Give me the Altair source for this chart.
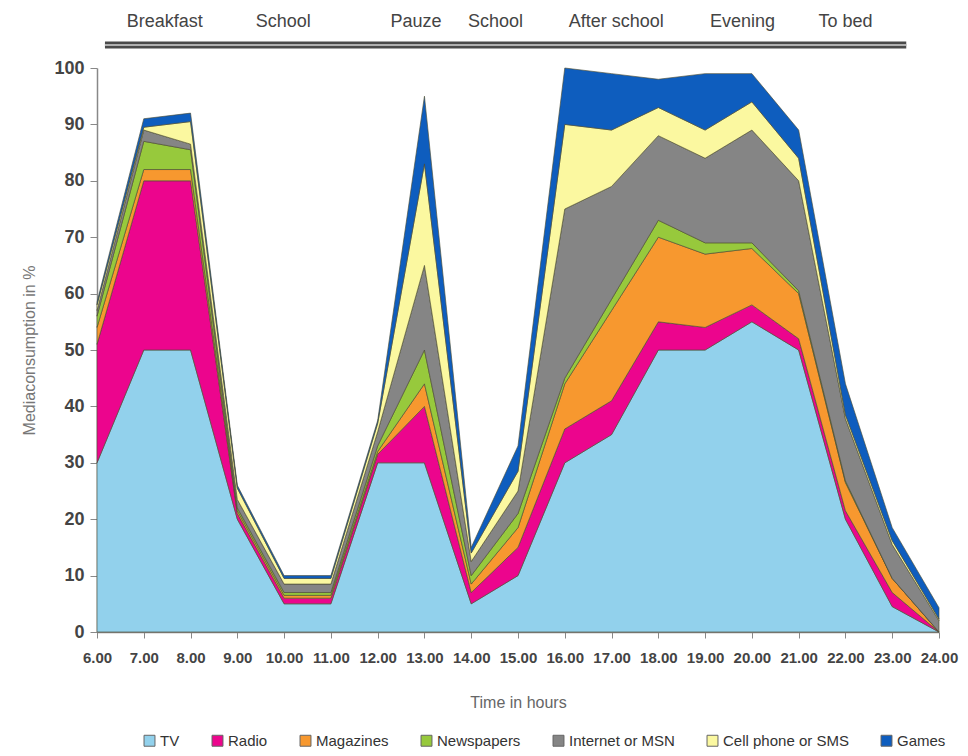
import altair as alt
import pandas as pd

hours = [6, 7, 8, 9, 10, 11, 12, 13, 14, 15, 16, 17, 18, 19, 20, 21, 22, 23, 24]

series_names = ["TV", "Radio", "Magazines", "Newspapers", "Internet or MSN", "Cell phone or SMS", "Games"]
series_colors = ["#92D1EC", "#EC058D", "#F7982F", "#97C93C", "#858585", "#FBF8A0", "#0E5DBE"]

tv         = [30, 50, 50, 20, 5, 5, 30, 30, 5, 10, 30, 35, 50, 50, 55, 50, 20, 4.5, 0]
radio      = [21, 30, 30, 1, 1, 1, 1.5, 10, 2, 5, 6, 6, 5, 4, 3, 2, 1.5, 2.5, 0]
magazines  = [3, 2, 2, 0.5, 0.5, 0.5, 0.5, 4, 1.5, 3.5, 8, 16, 15, 13, 10, 8, 5, 2.5, 0]
newspapers = [2, 5, 3.5, 0.5, 0.5, 0.5, 1, 6, 1.5, 2.5, 1, 2, 3, 2, 1, 0.5, 0.3, 0, 0]
internet   = [1, 2, 1, 1.5, 1.5, 1.5, 2.5, 15, 2.5, 4, 30, 20, 15, 15, 20, 19.5, 11, 6, 2]
cellphone  = [1, 0.5, 4, 2, 1, 1, 1.5, 18, 1.5, 3.5, 15, 10, 5, 5, 5, 4, 0.7, 0.7, 0.3]
games      = [0.5, 1.5, 1.5, 0.5, 0.5, 0.5, 0.5, 12, 1, 4.5, 10, 10, 5, 10, 5, 5, 5.5, 2.3, 2]

header_labels = ["Breakfast", "School", "Pauze", "School", "After school", "Evening", "To bed"]
header_hours = [7.45, 9.98, 12.82, 14.52, 17.1, 19.8, 22.0]
header_span = [6.17, 23.3]

all_series = [tv, radio, magazines, newspapers, internet, cellphone, games]
rows = []
for idx, (name, vals) in enumerate(zip(series_names, all_series)):
    for h, v in zip(hours, vals):
        rows.append({"hour": h, "series": name, "value": v, "idx": idx})
df = pd.DataFrame(rows)

FONT = "Liberation Sans"

areas = alt.Chart(df).mark_area(stroke="#4d4d33", strokeWidth=0.8, strokeOpacity=0.8).encode(
    x=alt.X("hour:Q",
            scale=alt.Scale(domain=[6, 24], nice=False, zero=False),
            axis=alt.Axis(values=hours, format=".2f", title="Time in hours",
                          labelFont=FONT, labelFontSize=15, labelFontWeight="bold",
                          labelColor="#444", labelPadding=12, labelFlush=False,
                          titleFont=FONT, titleFontSize=16, titleFontWeight="normal",
                          titleColor="#666", titlePadding=29,
                          tickColor="#888", tickSize=6, domainColor="#888",
                          domainWidth=1.5, grid=False)),
    y=alt.Y("value:Q", stack="zero",
            scale=alt.Scale(domain=[0, 100], nice=False),
            axis=alt.Axis(values=list(range(0, 101, 10)), title="Mediaconsumption in %",
                          labelFont=FONT, labelFontSize=18, labelFontWeight="bold",
                          labelColor="#444", labelPadding=6,
                          titleFont=FONT, titleFontSize=16, titleFontWeight="normal",
                          titleColor="#777", titlePadding=16,
                          tickColor="#888", tickSize=7, domainColor="#888",
                          domainWidth=1.5, grid=False)),
    color=alt.Color("series:N",
                    scale=alt.Scale(domain=series_names, range=series_colors),
                    legend=alt.Legend(title=None, orient="none", direction="horizontal",
                                      columns=7, legendX=45, legendY=665,
                                      symbolType="square", symbolSize=120,
                                      symbolStrokeColor="#666", symbolStrokeWidth=1,
                                      labelFont=FONT, labelFontSize=15, labelColor="#333",
                                      columnPadding=30, labelOffset=3)),
    order=alt.Order("idx:Q", sort="ascending"),
)

hdf = pd.DataFrame({"hour": header_hours, "label": header_labels})
header = alt.Chart(hdf).mark_text(font=FONT, fontSize=18, color="#444", baseline="middle").encode(
    x="hour:Q", y=alt.value(-46), text="label:N"
)

sdf = pd.DataFrame({"start": [header_span[0]], "end": [header_span[1]]})
bar_dark = alt.Chart(sdf).mark_rule(color="#4a4a4a", strokeWidth=7).encode(
    x="start:Q", x2="end:Q", y=alt.value(-23)
)
bar_light = alt.Chart(sdf).mark_rule(color="#b0b0b0", strokeWidth=2.2).encode(
    x="start:Q", x2="end:Q", y=alt.value(-23)
)

chart = alt.layer(areas, bar_dark, bar_light, header).properties(
    width=842, height=564,
    background="white",
    autosize=alt.AutoSizeParams(type="none"),
    padding={"left": 89, "top": 60, "right": 21, "bottom": 120},
).configure_view(strokeOpacity=0, strokeWidth=0).configure_axis(grid=False)

chart.save("out.html", embed_options={"renderer": "svg", "actions": False})
